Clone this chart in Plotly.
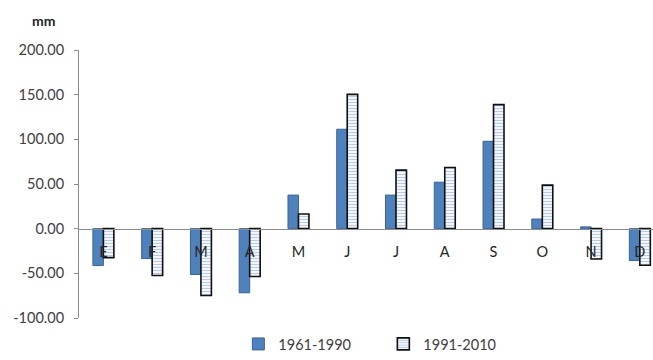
import plotly.graph_objects as go

# Monthly precipitation anomaly (mm) for two reference periods
months = ["E", "F", "M", "A", "M", "J", "J", "A", "S", "O", "N", "D"]
period_1961_1990 = [-41.3, -33.5, -51.3, -71.8, 37.6, 111.3, 37.6, 52.0, 97.8, 10.8, 2.0, -35.7]
period_1991_2010 = [-32.4, -52.5, -74.8, -53.6, 16.4, 150.3, 65.5, 68.5, 138.8, 48.7, -34.0, -41.0]

y_tick_vals = [-100, -50, 0, 50, 100, 150, 200]
y_tick_text = ["-100.00", "-50.00", "0.00", "50.00", "100.00", "150.00", "200.00"]

FONT = "Lato, 'Open Sans', sans-serif"
x_pos = list(range(len(months)))

fig = go.Figure()
fig.add_trace(go.Bar(
    x=x_pos, y=period_1961_1990, name="1961-1990",
    marker=dict(color="#4F81BD", line=dict(color="#3A6395", width=1)),
))
fig.add_trace(go.Bar(
    x=x_pos, y=period_1991_2010, name="1991-2010",
    marker=dict(
        color="white",
        line=dict(color="#111111", width=1.6),
        pattern=dict(shape="-", fgcolor="#6F97CF", bgcolor="white", size=3, solidity=0.45),
    ),
))

fig.update_layout(
    width=653, height=360,
    margin=dict(l=79, r=0, t=50, b=42, autoexpand=False),
    paper_bgcolor="white", plot_bgcolor="white",
    barmode="group", bargap=0.57, bargroupgap=0,
    font=dict(family=FONT, size=14, color="#404040"),
    showlegend=True,
    legend=dict(
        orientation="h", xref="container", yref="container",
        x=0.365, y=0.0, xanchor="left", yanchor="bottom",
        font=dict(family=FONT, size=14.5, color="#404040"),
        itemwidth=30, entrywidth=100, traceorder="normal",
    ),
    xaxis=dict(
        range=[-0.5, 11.27],
        tickvals=x_pos, ticktext=months,
        anchor="free", position=1 / 3,
        showline=True, linecolor="#8C8C8C", linewidth=1,
        ticks="", showgrid=False, zeroline=False, automargin=False,
        ticklabelstandoff=10,
        tickfont=dict(family=FONT, size=14.5, color="#262626"),
    ),
    yaxis=dict(
        range=[-100, 200],
        tickvals=y_tick_vals, ticktext=y_tick_text,
        showline=True, linecolor="#8C8C8C", linewidth=1,
        ticks="outside", ticklen=4, tickcolor="#8C8C8C",
        showgrid=False, zeroline=False, automargin=False,
        ticklabelstandoff=7,
        tickfont=dict(family=FONT, size=14.5, color="#404040"),
    ),
    annotations=[dict(
        text="<b>mm</b>", xref="paper", yref="paper",
        x=-0.062, y=1.11, xanchor="center", yanchor="middle",
        showarrow=False, font=dict(family=FONT, size=14, color="#262626"),
    )],
)

fig.write_html("out.html")
